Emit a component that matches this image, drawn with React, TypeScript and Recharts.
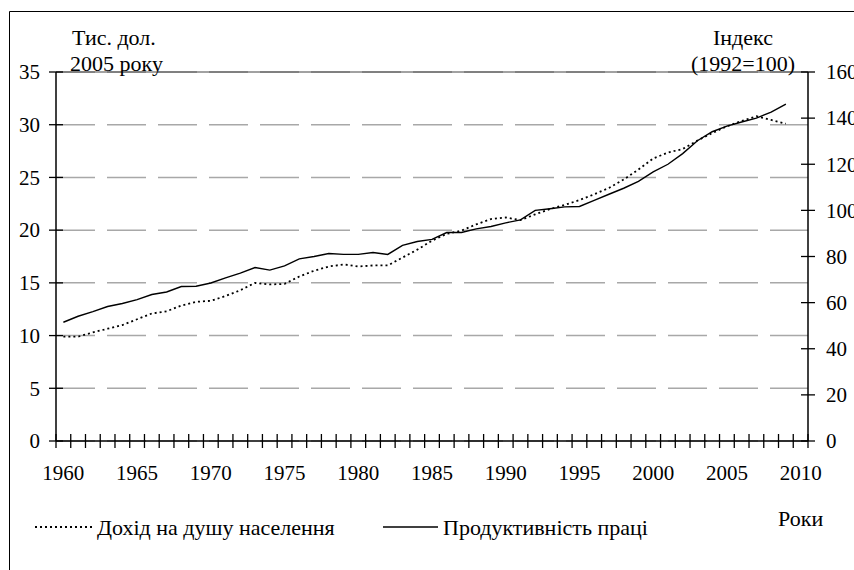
import { LineChart, Line, XAxis, YAxis, CartesianGrid, ReferenceLine } from 'recharts';

const years = [
  1960, 1961, 1962, 1963, 1964, 1965, 1966, 1967, 1968, 1969,
  1970, 1971, 1972, 1973, 1974, 1975, 1976, 1977, 1978, 1979,
  1980, 1981, 1982, 1983, 1984, 1985, 1986, 1987, 1988, 1989,
  1990, 1991, 1992, 1993, 1994, 1995, 1996, 1997, 1998, 1999,
  2000, 2001, 2002, 2003, 2004, 2005, 2006, 2007, 2008, 2009,
];

// thousand 2005 dollars, left axis
const income = [
  9.9, 9.9, 10.3, 10.65, 11.0, 11.55, 12.1, 12.3, 12.85, 13.2,
  13.3, 13.75, 14.3, 15.0, 14.85, 14.9, 15.6, 16.15, 16.55, 16.75,
  16.55, 16.65, 16.65, 17.4, 18.15, 19.0, 19.65, 19.95, 20.55, 21.05,
  21.2, 20.95, 21.5, 22.0, 22.4, 22.85, 23.4, 24.0, 24.8, 25.75,
  26.8, 27.35, 27.7, 28.5, 29.2, 29.85, 30.35, 30.8, 30.45, 30.1,
];

// index 1992=100, right axis
const productivity = [
  51.5, 54.1, 56.1, 58.3, 59.6, 61.3, 63.5, 64.6, 67.0, 67.1,
  68.5, 70.7, 72.8, 75.2, 74.1, 75.9, 79.0, 80.0, 81.3, 80.9,
  80.9, 81.7, 80.9, 84.8, 86.5, 87.4, 90.4, 90.4, 92.0, 93.0,
  94.6, 95.9, 100.0, 100.7, 101.5, 101.7, 104.3, 107.0, 109.6, 112.6,
  116.7, 120.0, 124.6, 130.2, 134.1, 136.5, 138.3, 140.0, 142.6, 146.1,
];

const yearLabels = [1960, 1965, 1970, 1975, 1980, 1985, 1990, 1995, 2000, 2005, 2010];
const leftTicks = [0, 5, 10, 15, 20, 25, 30, 35];
const rightTicks = [0, 20, 40, 60, 80, 100, 120, 140, 160];

const series = [
  { key: 'income', name: 'Дохід на душу населення', axis: 'left', dash: '2 3' },
  { key: 'productivity', name: 'Продуктивність праці', axis: 'right', dash: undefined },
];

const data = years.map((year, i) => ({ year, income: income[i], productivity: productivity[i] }));

// tick marks sit between the years, labels sit on the years
const boundaries = [...years, 2010, 2011].map((y) => y - 0.5);
const xTicks = [...boundaries, ...yearLabels].sort((a, b) => a - b);

const FONT = "'Liberation Serif', 'Times New Roman', serif";
const tickTxt = { fontFamily: FONT, fontSize: 21 };
const labelTxt = { fontFamily: FONT, fontSize: 22 };

const XTick = ({ x, y, payload }: any) => {
  if (payload.value % 1 !== 0) {
    return <line x1={x} x2={x} y1={y - 7} y2={y + 7} stroke="#000" strokeWidth={1.3} />;
  }
  return (
    <text x={x} y={y + 39} textAnchor="middle" style={tickTxt} fill="#000">
      {payload.value}
    </text>
  );
};

const LeftTick = ({ x, y, payload }: any) => (
  <g>
    <line x1={x - 7} x2={x + 7} y1={y} y2={y} stroke="#000" strokeWidth={1.3} />
    <text x={x - 16} y={y} dy="0.35em" textAnchor="end" style={tickTxt} fill="#000">
      {payload.value}
    </text>
  </g>
);

const RightTick = ({ x, y, payload }: any) => (
  <g>
    <line x1={x - 7} x2={x + 7} y1={y} y2={y} stroke="#000" strokeWidth={1.3} />
    <text x={x + 18} y={y} dy="0.35em" textAnchor="start" style={tickTxt} fill="#000">
      {payload.value}
    </text>
  </g>
);

export default function App() {
  return (
    <div
      style={{
        position: 'absolute',
        left: 0,
        top: 0,
        width: 854,
        height: 570,
        background: '#fff',
        overflow: 'hidden',
        fontFamily: FONT,
      }}
    >
      <LineChart width={854} height={570} data={data} margin={{ top: 72, right: 6, bottom: 99, left: 16 }}>
        <CartesianGrid
          horizontal
          vertical={false}
          yAxisId="left"
          stroke="#a8a8a8"
          strokeWidth={1.5}
          strokeDasharray="39 12"
        />
        <XAxis
          dataKey="year"
          type="number"
          domain={[1959.5, 2010.5]}
          ticks={xTicks}
          interval={0}
          height={30}
          tickSize={0}
          tickMargin={0}
          tickLine={false}
          tick={<XTick />}
          axisLine={{ stroke: '#000', strokeWidth: 1.5 }}
        />
        <YAxis
          yAxisId="left"
          orientation="left"
          width={40}
          domain={[0, 35]}
          ticks={leftTicks}
          interval={0}
          tickSize={0}
          tickMargin={0}
          tickLine={false}
          tick={<LeftTick />}
          axisLine={{ stroke: '#000', strokeWidth: 1.5 }}
        />
        <YAxis
          yAxisId="right"
          orientation="right"
          width={40}
          domain={[0, 160]}
          ticks={rightTicks}
          interval={0}
          tickSize={0}
          tickMargin={0}
          tickLine={false}
          tick={<RightTick />}
          axisLine={{ stroke: '#000', strokeWidth: 1.5 }}
        />
        <ReferenceLine yAxisId="left" y={35} stroke="#444" strokeWidth={1} />
        {series.map((s) => (
          <Line
            key={s.key}
            yAxisId={s.axis}
            dataKey={s.key}
            name={s.name}
            type="linear"
            stroke="#000"
            strokeWidth={s.dash ? 1.8 : 1.4}
            strokeDasharray={s.dash}
            dot={false}
            activeDot={false}
            isAnimationActive={false}
          />
        ))}
      </LineChart>

      <svg
        width={854}
        height={570}
        style={{ position: 'absolute', left: 0, top: 0, pointerEvents: 'none', ...labelTxt }}
      >
        {/* frame */}
        <line x1={9.5} x2={854} y1={11.5} y2={11.5} stroke="#000" strokeWidth={1} />
        <line x1={9.5} x2={9.5} y1={11.5} y2={570} stroke="#000" strokeWidth={1} />

        {/* axis titles */}
        <text x={72} y={45} fill="#000">Тис. дол.</text>
        <text x={70} y={71} fill="#000">2005 року</text>
        <text x={743} y={45} textAnchor="middle" fill="#000">Індекс</text>
        <text x={743} y={71} textAnchor="middle" fill="#000">(1992=100)</text>
        <text x={778} y={526} fill="#000">Роки</text>

        {/* legend */}
        <line x1={35} x2={92} y1={527} y2={527} stroke="#000" strokeWidth={1.8} strokeDasharray="2 3" />
        <text x={97} y={535} fill="#000">{series[0].name}</text>
        <line x1={383} x2={438} y1={527} y2={527} stroke="#000" strokeWidth={1.4} />
        <text x={443} y={535} fill="#000">{series[1].name}</text>
      </svg>
    </div>
  );
}
